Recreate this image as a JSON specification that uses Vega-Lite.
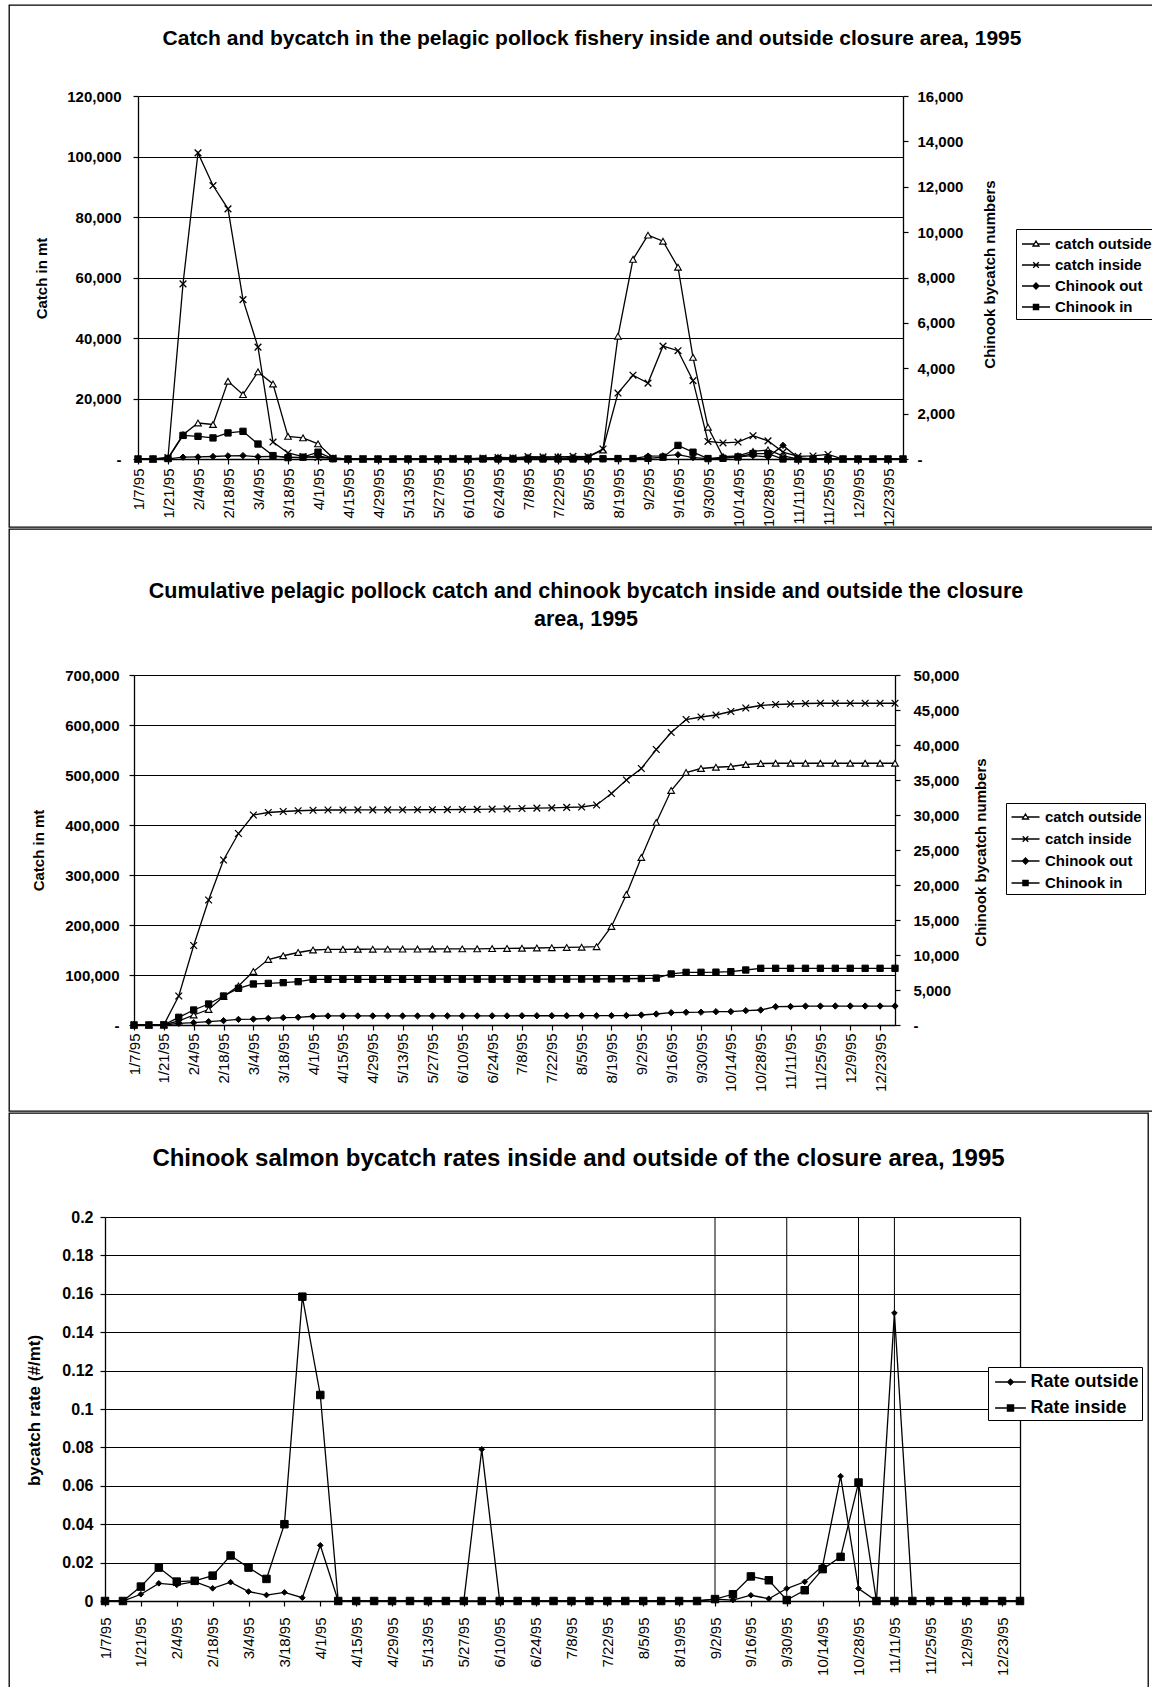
{
"$schema":"https://vega.github.io/schema/vega-lite/v6.json",
"background":"white",
"padding":{"left":8,"top":4,"right":0,"bottom":0},
"spacing":0,
"datasets":{
"weekly":[
{"d":"1/7/95","w":0,"catch outside":0,"catch inside":0,"Chinook out":0,"Chinook in":0},
{"d":"1/14/95","w":1,"catch outside":0,"catch inside":0,"Chinook out":0,"Chinook in":0},
{"d":"1/21/95","w":2,"catch outside":300,"catch inside":500,"Chinook out":10,"Chinook in":20},
{"d":"1/28/95","w":3,"catch outside":8000,"catch inside":57900,"Chinook out":80,"Chinook in":1040},
{"d":"2/4/95","w":4,"catch outside":11900,"catch inside":101200,"Chinook out":90,"Chinook in":1000},
{"d":"2/11/95","w":5,"catch outside":11400,"catch inside":90400,"Chinook out":110,"Chinook in":930},
{"d":"2/18/95","w":6,"catch outside":25700,"catch inside":82700,"Chinook out":140,"Chinook in":1150},
{"d":"2/25/95","w":7,"catch outside":21300,"catch inside":52700,"Chinook out":150,"Chinook in":1220},
{"d":"3/4/95","w":8,"catch outside":28800,"catch inside":37000,"Chinook out":100,"Chinook in":660},
{"d":"3/11/95","w":9,"catch outside":24800,"catch inside":5600,"Chinook out":120,"Chinook in":150},
{"d":"3/18/95","w":10,"catch outside":7500,"catch inside":2000,"Chinook out":80,"Chinook in":60},
{"d":"3/25/95","w":11,"catch outside":7000,"catch inside":800,"Chinook out":50,"Chinook in":80},
{"d":"4/1/95","w":12,"catch outside":5000,"catch inside":500,"Chinook out":150,"Chinook in":300},
{"d":"4/8/95","w":13,"catch outside":300,"catch inside":300,"Chinook out":0,"Chinook in":10},
{"d":"4/15/95","w":14,"catch outside":0,"catch inside":0,"Chinook out":0,"Chinook in":0},
{"d":"4/22/95","w":15,"catch outside":0,"catch inside":100,"Chinook out":0,"Chinook in":0},
{"d":"4/29/95","w":16,"catch outside":0,"catch inside":0,"Chinook out":0,"Chinook in":0},
{"d":"5/6/95","w":17,"catch outside":0,"catch inside":0,"Chinook out":0,"Chinook in":0},
{"d":"5/13/95","w":18,"catch outside":100,"catch inside":0,"Chinook out":0,"Chinook in":0},
{"d":"5/20/95","w":19,"catch outside":0,"catch inside":0,"Chinook out":0,"Chinook in":0},
{"d":"5/27/95","w":20,"catch outside":0,"catch inside":0,"Chinook out":0,"Chinook in":0},
{"d":"6/3/95","w":21,"catch outside":100,"catch inside":200,"Chinook out":8,"Chinook in":0},
{"d":"6/10/95","w":22,"catch outside":0,"catch inside":100,"Chinook out":0,"Chinook in":0},
{"d":"6/17/95","w":23,"catch outside":200,"catch inside":300,"Chinook out":0,"Chinook in":0},
{"d":"6/24/95","w":24,"catch outside":500,"catch inside":500,"Chinook out":0,"Chinook in":0},
{"d":"7/1/95","w":25,"catch outside":300,"catch inside":400,"Chinook out":0,"Chinook in":0},
{"d":"7/8/95","w":26,"catch outside":500,"catch inside":800,"Chinook out":0,"Chinook in":0},
{"d":"7/15/95","w":27,"catch outside":500,"catch inside":700,"Chinook out":0,"Chinook in":0},
{"d":"7/22/95","w":28,"catch outside":800,"catch inside":600,"Chinook out":0,"Chinook in":0},
{"d":"7/29/95","w":29,"catch outside":500,"catch inside":900,"Chinook out":0,"Chinook in":0},
{"d":"8/5/95","w":30,"catch outside":600,"catch inside":800,"Chinook out":0,"Chinook in":0},
{"d":"8/12/95","w":31,"catch outside":3000,"catch inside":3300,"Chinook out":0,"Chinook in":10},
{"d":"8/19/95","w":32,"catch outside":40600,"catch inside":21800,"Chinook out":10,"Chinook in":20},
{"d":"8/26/95","w":33,"catch outside":66000,"catch inside":27700,"Chinook out":20,"Chinook in":20},
{"d":"9/2/95","w":34,"catch outside":74000,"catch inside":25100,"Chinook out":130,"Chinook in":30},
{"d":"9/9/95","w":35,"catch outside":72000,"catch inside":37300,"Chinook out":140,"Chinook in":80},
{"d":"9/16/95","w":36,"catch outside":63400,"catch inside":35800,"Chinook out":190,"Chinook in":600},
{"d":"9/23/95","w":37,"catch outside":33600,"catch inside":25900,"Chinook out":60,"Chinook in":300},
{"d":"9/30/95","w":38,"catch outside":10500,"catch inside":5800,"Chinook out":20,"Chinook in":20},
{"d":"10/7/95","w":39,"catch outside":800,"catch inside":5300,"Chinook out":80,"Chinook in":30},
{"d":"10/14/95","w":40,"catch outside":1000,"catch inside":5600,"Chinook out":100,"Chinook in":90},
{"d":"10/21/95","w":41,"catch outside":2500,"catch inside":7700,"Chinook out":150,"Chinook in":240},
{"d":"10/28/95","w":42,"catch outside":3000,"catch inside":6000,"Chinook out":90,"Chinook in":240},
{"d":"11/4/95","w":43,"catch outside":1000,"catch inside":2300,"Chinook out":600,"Chinook in":0},
{"d":"11/11/95","w":44,"catch outside":0,"catch inside":900,"Chinook out":50,"Chinook in":0},
{"d":"11/18/95","w":45,"catch outside":0,"catch inside":1000,"Chinook out":0,"Chinook in":0},
{"d":"11/25/95","w":46,"catch outside":0,"catch inside":1500,"Chinook out":0,"Chinook in":0},
{"d":"12/2/95","w":47,"catch outside":0,"catch inside":0,"Chinook out":0,"Chinook in":0},
{"d":"12/9/95","w":48,"catch outside":0,"catch inside":0,"Chinook out":0,"Chinook in":0},
{"d":"12/16/95","w":49,"catch outside":0,"catch inside":0,"Chinook out":0,"Chinook in":0},
{"d":"12/23/95","w":50,"catch outside":0,"catch inside":0,"Chinook out":0,"Chinook in":0},
{"d":"12/30/95","w":51,"catch outside":0,"catch inside":0,"Chinook out":0,"Chinook in":0}
],
"cumul":[
{"d":"1/7/95","w":0,"catch outside":0,"catch inside":0,"Chinook out":0,"Chinook in":0},
{"d":"1/14/95","w":1,"catch outside":0,"catch inside":0,"Chinook out":0,"Chinook in":0},
{"d":"1/21/95","w":2,"catch outside":0,"catch inside":500,"Chinook out":0,"Chinook in":20},
{"d":"1/28/95","w":3,"catch outside":8000,"catch inside":58000,"Chinook out":240,"Chinook in":1100},
{"d":"2/4/95","w":4,"catch outside":20000,"catch inside":159000,"Chinook out":330,"Chinook in":2140},
{"d":"2/11/95","w":5,"catch outside":31000,"catch inside":250000,"Chinook out":480,"Chinook in":3000},
{"d":"2/18/95","w":6,"catch outside":57000,"catch inside":330000,"Chinook out":620,"Chinook in":4140},
{"d":"2/25/95","w":7,"catch outside":78000,"catch inside":383000,"Chinook out":800,"Chinook in":5240},
{"d":"3/4/95","w":8,"catch outside":107000,"catch inside":420000,"Chinook out":850,"Chinook in":5860},
{"d":"3/11/95","w":9,"catch outside":131000,"catch inside":425000,"Chinook out":950,"Chinook in":5950},
{"d":"3/18/95","w":10,"catch outside":138500,"catch inside":427000,"Chinook out":1050,"Chinook in":6050},
{"d":"3/25/95","w":11,"catch outside":145000,"catch inside":428500,"Chinook out":1100,"Chinook in":6190},
{"d":"4/1/95","w":12,"catch outside":150000,"catch inside":429500,"Chinook out":1250,"Chinook in":6520},
{"d":"4/8/95","w":13,"catch outside":151300,"catch inside":430000,"Chinook out":1290,"Chinook in":6530},
{"d":"4/15/95","w":14,"catch outside":151400,"catch inside":430000,"Chinook out":1300,"Chinook in":6530},
{"d":"4/22/95","w":15,"catch outside":151500,"catch inside":430200,"Chinook out":1300,"Chinook in":6530},
{"d":"4/29/95","w":16,"catch outside":151600,"catch inside":430300,"Chinook out":1300,"Chinook in":6530},
{"d":"5/6/95","w":17,"catch outside":151700,"catch inside":430300,"Chinook out":1300,"Chinook in":6530},
{"d":"5/13/95","w":18,"catch outside":151800,"catch inside":430400,"Chinook out":1300,"Chinook in":6530},
{"d":"5/20/95","w":19,"catch outside":151900,"catch inside":430500,"Chinook out":1300,"Chinook in":6530},
{"d":"5/27/95","w":20,"catch outside":152000,"catch inside":430600,"Chinook out":1300,"Chinook in":6540},
{"d":"6/3/95","w":21,"catch outside":152100,"catch inside":430800,"Chinook out":1310,"Chinook in":6540},
{"d":"6/10/95","w":22,"catch outside":152200,"catch inside":431000,"Chinook out":1310,"Chinook in":6540},
{"d":"6/17/95","w":23,"catch outside":152400,"catch inside":431300,"Chinook out":1310,"Chinook in":6540},
{"d":"6/24/95","w":24,"catch outside":152800,"catch inside":431800,"Chinook out":1310,"Chinook in":6540},
{"d":"7/1/95","w":25,"catch outside":153100,"catch inside":432200,"Chinook out":1310,"Chinook in":6540},
{"d":"7/8/95","w":26,"catch outside":153500,"catch inside":433000,"Chinook out":1320,"Chinook in":6540},
{"d":"7/15/95","w":27,"catch outside":154000,"catch inside":433700,"Chinook out":1320,"Chinook in":6550},
{"d":"7/22/95","w":28,"catch outside":154600,"catch inside":434300,"Chinook out":1320,"Chinook in":6550},
{"d":"7/29/95","w":29,"catch outside":155100,"catch inside":435200,"Chinook out":1320,"Chinook in":6550},
{"d":"8/5/95","w":30,"catch outside":155600,"catch inside":436000,"Chinook out":1330,"Chinook in":6560},
{"d":"8/12/95","w":31,"catch outside":156600,"catch inside":440000,"Chinook out":1330,"Chinook in":6570},
{"d":"8/19/95","w":32,"catch outside":197000,"catch inside":463000,"Chinook out":1340,"Chinook in":6590},
{"d":"8/26/95","w":33,"catch outside":261000,"catch inside":490000,"Chinook out":1360,"Chinook in":6610},
{"d":"9/2/95","w":34,"catch outside":335000,"catch inside":513000,"Chinook out":1430,"Chinook in":6640},
{"d":"9/9/95","w":35,"catch outside":405000,"catch inside":551000,"Chinook out":1570,"Chinook in":6700},
{"d":"9/16/95","w":36,"catch outside":469000,"catch inside":585000,"Chinook out":1760,"Chinook in":7290},
{"d":"9/23/95","w":37,"catch outside":505000,"catch inside":611000,"Chinook out":1810,"Chinook in":7520},
{"d":"9/30/95","w":38,"catch outside":513000,"catch inside":616000,"Chinook out":1830,"Chinook in":7530},
{"d":"10/7/95","w":39,"catch outside":515500,"catch inside":620000,"Chinook out":1900,"Chinook in":7550},
{"d":"10/14/95","w":40,"catch outside":517000,"catch inside":627000,"Chinook out":1920,"Chinook in":7620},
{"d":"10/21/95","w":41,"catch outside":521000,"catch inside":634000,"Chinook out":2050,"Chinook in":7860},
{"d":"10/28/95","w":42,"catch outside":523000,"catch inside":639000,"Chinook out":2140,"Chinook in":8100},
{"d":"11/4/95","w":43,"catch outside":523500,"catch inside":641000,"Chinook out":2620,"Chinook in":8100},
{"d":"11/11/95","w":44,"catch outside":523500,"catch inside":642000,"Chinook out":2640,"Chinook in":8100},
{"d":"11/18/95","w":45,"catch outside":523500,"catch inside":643000,"Chinook out":2700,"Chinook in":8100},
{"d":"11/25/95","w":46,"catch outside":523500,"catch inside":643500,"Chinook out":2700,"Chinook in":8100},
{"d":"12/2/95","w":47,"catch outside":523500,"catch inside":643500,"Chinook out":2710,"Chinook in":8100},
{"d":"12/9/95","w":48,"catch outside":523500,"catch inside":643500,"Chinook out":2710,"Chinook in":8100},
{"d":"12/16/95","w":49,"catch outside":523500,"catch inside":643500,"Chinook out":2710,"Chinook in":8100},
{"d":"12/23/95","w":50,"catch outside":523500,"catch inside":643500,"Chinook out":2710,"Chinook in":8100},
{"d":"12/30/95","w":51,"catch outside":523500,"catch inside":643500,"Chinook out":2710,"Chinook in":8100}
],
"rates":[
{"d":"1/7/95","w":0,"Rate outside":0,"Rate inside":0},
{"d":"1/14/95","w":1,"Rate outside":0,"Rate inside":0},
{"d":"1/21/95","w":2,"Rate outside":0.0035,"Rate inside":0.0075},
{"d":"1/28/95","w":3,"Rate outside":0.0092,"Rate inside":0.0174},
{"d":"2/4/95","w":4,"Rate outside":0.0084,"Rate inside":0.0101},
{"d":"2/11/95","w":5,"Rate outside":0.0101,"Rate inside":0.0105},
{"d":"2/18/95","w":6,"Rate outside":0.0066,"Rate inside":0.0132},
{"d":"2/25/95","w":7,"Rate outside":0.0098,"Rate inside":0.0237},
{"d":"3/4/95","w":8,"Rate outside":0.0049,"Rate inside":0.0174},
{"d":"3/11/95","w":9,"Rate outside":0.0031,"Rate inside":0.0115},
{"d":"3/18/95","w":10,"Rate outside":0.0045,"Rate inside":0.040},
{"d":"3/25/95","w":11,"Rate outside":0.0017,"Rate inside":0.1585},
{"d":"4/1/95","w":12,"Rate outside":0.029,"Rate inside":0.1073},
{"d":"4/8/95","w":13,"Rate outside":0,"Rate inside":0},
{"d":"4/15/95","w":14,"Rate outside":0,"Rate inside":0},
{"d":"4/22/95","w":15,"Rate outside":0,"Rate inside":0},
{"d":"4/29/95","w":16,"Rate outside":0,"Rate inside":0},
{"d":"5/6/95","w":17,"Rate outside":0,"Rate inside":0},
{"d":"5/13/95","w":18,"Rate outside":0,"Rate inside":0},
{"d":"5/20/95","w":19,"Rate outside":0,"Rate inside":0},
{"d":"5/27/95","w":20,"Rate outside":0,"Rate inside":0},
{"d":"6/3/95","w":21,"Rate outside":0.079,"Rate inside":0},
{"d":"6/10/95","w":22,"Rate outside":0,"Rate inside":0},
{"d":"6/17/95","w":23,"Rate outside":0,"Rate inside":0},
{"d":"6/24/95","w":24,"Rate outside":0,"Rate inside":0},
{"d":"7/1/95","w":25,"Rate outside":0,"Rate inside":0},
{"d":"7/8/95","w":26,"Rate outside":0,"Rate inside":0},
{"d":"7/15/95","w":27,"Rate outside":0,"Rate inside":0},
{"d":"7/22/95","w":28,"Rate outside":0,"Rate inside":0},
{"d":"7/29/95","w":29,"Rate outside":0,"Rate inside":0},
{"d":"8/5/95","w":30,"Rate outside":0,"Rate inside":0},
{"d":"8/12/95","w":31,"Rate outside":0,"Rate inside":0},
{"d":"8/19/95","w":32,"Rate outside":0,"Rate inside":0},
{"d":"8/26/95","w":33,"Rate outside":0,"Rate inside":0},
{"d":"9/2/95","w":34,"Rate outside":0.001,"Rate inside":0.001},
{"d":"9/9/95","w":35,"Rate outside":0.0005,"Rate inside":0.0035},
{"d":"9/16/95","w":36,"Rate outside":0.003,"Rate inside":0.0128},
{"d":"9/23/95","w":37,"Rate outside":0.0012,"Rate inside":0.0108},
{"d":"9/30/95","w":38,"Rate outside":0.0065,"Rate inside":0.0005},
{"d":"10/7/95","w":39,"Rate outside":0.010,"Rate inside":0.0056},
{"d":"10/14/95","w":40,"Rate outside":0.0183,"Rate inside":0.0166},
{"d":"10/21/95","w":41,"Rate outside":0.065,"Rate inside":0.023},
{"d":"10/28/95","w":42,"Rate outside":0.0065,"Rate inside":0.0617},
{"d":"11/4/95","w":43,"Rate outside":0,"Rate inside":0},
{"d":"11/11/95","w":44,"Rate outside":0.150,"Rate inside":0},
{"d":"11/18/95","w":45,"Rate outside":0,"Rate inside":0},
{"d":"11/25/95","w":46,"Rate outside":0,"Rate inside":0},
{"d":"12/2/95","w":47,"Rate outside":0,"Rate inside":0},
{"d":"12/9/95","w":48,"Rate outside":0,"Rate inside":0},
{"d":"12/16/95","w":49,"Rate outside":0,"Rate inside":0},
{"d":"12/23/95","w":50,"Rate outside":0,"Rate inside":0},
{"d":"12/30/95","w":51,"Rate outside":0,"Rate inside":0}
]
},
"vconcat":[
{
"width":1146,"height":522,
"title":{"text":"Catch and bycatch in the pelagic pollock fishery inside and outside closure area, 1995","anchor":"middle","frame":"group","offset":-61,"dx":10,"baseline":"alphabetic","fontSize":21,"font":"Liberation Sans","fontWeight":"bold","color":"black"},
"data":{"name":"weekly"},
"encoding":{"x":{"field":"d","type":"ordinal","scale":{"type":"point","padding":0,"range":[129,894],"domain":["1/7/95","1/14/95","1/21/95","1/28/95","2/4/95","2/11/95","2/18/95","2/25/95","3/4/95","3/11/95","3/18/95","3/25/95","4/1/95","4/8/95","4/15/95","4/22/95","4/29/95","5/6/95","5/13/95","5/20/95","5/27/95","6/3/95","6/10/95","6/17/95","6/24/95","7/1/95","7/8/95","7/15/95","7/22/95","7/29/95","8/5/95","8/12/95","8/19/95","8/26/95","9/2/95","9/9/95","9/16/95","9/23/95","9/30/95","10/7/95","10/14/95","10/21/95","10/28/95","11/4/95","11/11/95","11/18/95","11/25/95","12/2/95","12/9/95","12/16/95","12/23/95","12/30/95"]},
"axis":{"values":["1/7/95","1/21/95","2/4/95","2/18/95","3/4/95","3/18/95","4/1/95","4/15/95","4/29/95","5/13/95","5/27/95","6/10/95","6/24/95","7/8/95","7/22/95","8/5/95","8/19/95","9/2/95","9/16/95","9/30/95","10/14/95","10/28/95","11/11/95","11/25/95","12/9/95","12/23/95"],"orient":"bottom","offset":-68,"labelAngle":-90,"labelFont":"Liberation Sans","labelFontWeight":"normal","labelFontSize":15,"tickSize":5,"labelPadding":4,"title":null,"grid":false}}},
"layer":[
{"encoding":{"y":{"field":"catch outside","type":"quantitative","scale":{"domain":[0,120000],"range":[454,91],"nice":false,"zero":false},"axis":{"orient":"left","offset":-129,"values":[0,20000,40000,60000,80000,100000,120000],"grid":true,"tickSize":5,"labelPadding":12,"labelFontSize":15,"labelExpr":"datum.value == 0 ? '-\u00a0\u00a0\u00a0\u00a0\u00a0' : format(datum.value, ',')","title":"Catch in mt","titleFontSize":15,"titleAngle":270,"titleAlign":"center","titleBaseline":"middle","titleX":-97,"titleY":273}}},
 "layer":[
  {"data":{"values":[{"d":"9/2/95"},{"d":"9/30/95"}]},"mark":{"type":"rule","color":"black","strokeWidth":1},"encoding":{"y":{"datum":0},"y2":{"datum":120000}}},
  {"mark":{"type":"line","color":"black","strokeWidth":1.3},"encoding":{"order":{"field":"w"}}},
  {"mark":{"type":"point","shape":"triangle-up","filled":true,"fill":"white","stroke":"black","strokeWidth":1.1,"opacity":1,"size":45}},
  {"mark":{"type":"line","color":"black","strokeWidth":1.3},"encoding":{"y":{"field":"catch inside","type":"quantitative"},"order":{"field":"w"}}},
  {"mark":{"type":"point","shape":"M-1,-1L1,1M-1,1L1,-1","filled":false,"stroke":"black","strokeWidth":1.3,"opacity":1,"size":45},"encoding":{"y":{"field":"catch inside","type":"quantitative"}}}
 ]},
{"encoding":{"y":{"field":"Chinook out","type":"quantitative","scale":{"domain":[0,16000],"range":[454,91],"nice":false,"zero":false},"axis":{"orient":"right","offset":-252,"values":[0,2000,4000,6000,8000,10000,12000,14000,16000],"grid":false,"tickSize":5,"labelPadding":9,"labelFontSize":15,"labelExpr":"datum.value == 0 ? '\u00a0\u00a0\u00a0-' : format(datum.value, ',')","title":"Chinook bycatch numbers","titleFontSize":15,"titleAngle":270,"titleAlign":"center","titleBaseline":"middle","titleX":86,"titleY":269}}},
 "layer":[
  {"mark":{"type":"line","color":"black","strokeWidth":1.3},"encoding":{"order":{"field":"w"}}},
  {"mark":{"type":"point","shape":"diamond","filled":true,"fill":"black","stroke":"black","strokeWidth":1,"opacity":1,"size":40}},
  {"mark":{"type":"line","color":"black","strokeWidth":1.3},"encoding":{"y":{"field":"Chinook in","type":"quantitative"},"order":{"field":"w"}}},
  {"mark":{"type":"point","shape":"square","filled":true,"fill":"black","stroke":"black","strokeWidth":1,"opacity":1,"size":40},"encoding":{"y":{"field":"Chinook in","type":"quantitative"}}}
 ]},
{"data":{"values":[]},"mark":{"type":"point","filled":false,"color":"black","strokeWidth":1.3,"opacity":1},
 "encoding":{
  "shape":{"field":"s","type":"nominal","scale":{"domain":["catch outside","catch inside","Chinook out","Chinook in"],"range":["M-1.4,0L-0.18,0M0.18,0L1.4,0M0,-0.3L0.3,0.2L-0.3,0.2Z","M-1.4,0L1.4,0M-0.28,-0.28L0.28,0.28M-0.28,0.28L0.28,-0.28","M-1.4,0L1.4,0M0,-0.3L0.3,0L0,0.3L-0.3,0Z","M-1.4,0L1.4,0M-0.26,-0.26L0.26,-0.26L0.26,0.26L-0.26,0.26Z"]},
   "legend":{"orient":"none","legendX":1007,"legendY":224,"title":null,"strokeColor":"black","fillColor":"white","padding":4,"rowPadding":2,"symbolSize":400,"symbolOffset":5,"labelOffset":8,"symbolStrokeWidth":1.3,"labelFont":"Liberation Sans","labelFontWeight":"bold","labelFontSize":15,"labelColor":"black","labelLimit":0}},
  "fill":{"field":"s","type":"nominal","scale":{"domain":["catch outside","catch inside","Chinook out","Chinook in"],"range":["white","black","black","black"]},
   "legend":{"orient":"none","legendX":1007,"legendY":224,"title":null,"strokeColor":"black","fillColor":"white","padding":4,"rowPadding":2,"symbolSize":400,"symbolOffset":5,"labelOffset":8,"symbolStrokeWidth":1.3,"labelFont":"Liberation Sans","labelFontWeight":"bold","labelFontSize":15,"labelColor":"black","labelLimit":0}},
  "stroke":{"field":"s","type":"nominal","scale":{"domain":["catch outside","catch inside","Chinook out","Chinook in"],"range":["black","black","black","black"]},
   "legend":{"orient":"none","legendX":1007,"legendY":224,"title":null,"strokeColor":"black","fillColor":"white","padding":4,"rowPadding":2,"symbolSize":400,"symbolOffset":5,"labelOffset":8,"symbolStrokeWidth":1.3,"labelFont":"Liberation Sans","labelFontWeight":"bold","labelFontSize":15,"labelColor":"black","labelLimit":0}}}}
],
"resolve":{"scale":{"y":"independent"}}
},
{
"width":1146,"height":582,
"title":{"text":["Cumulative pelagic pollock catch and chinook bycatch inside and outside the closure","area, 1995"],"lineHeight":28,"anchor":"middle","frame":"group","offset":-118,"dx":4,"baseline":"alphabetic","fontSize":21.5,"font":"Liberation Sans","fontWeight":"bold","color":"black"},
"data":{"name":"cumul"},
"encoding":{"x":{"field":"d","type":"ordinal","scale":{"type":"point","padding":0,"range":[125,886],"domain":["1/7/95","1/14/95","1/21/95","1/28/95","2/4/95","2/11/95","2/18/95","2/25/95","3/4/95","3/11/95","3/18/95","3/25/95","4/1/95","4/8/95","4/15/95","4/22/95","4/29/95","5/6/95","5/13/95","5/20/95","5/27/95","6/3/95","6/10/95","6/17/95","6/24/95","7/1/95","7/8/95","7/15/95","7/22/95","7/29/95","8/5/95","8/12/95","8/19/95","8/26/95","9/2/95","9/9/95","9/16/95","9/23/95","9/30/95","10/7/95","10/14/95","10/21/95","10/28/95","11/4/95","11/11/95","11/18/95","11/25/95","12/2/95","12/9/95","12/16/95","12/23/95","12/30/95"]},
"axis":{"values":["1/7/95","1/21/95","2/4/95","2/18/95","3/4/95","3/18/95","4/1/95","4/15/95","4/29/95","5/13/95","5/27/95","6/10/95","6/24/95","7/8/95","7/22/95","8/5/95","8/19/95","9/2/95","9/16/95","9/30/95","10/14/95","10/28/95","11/11/95","11/25/95","12/9/95","12/23/95"],"orient":"bottom","offset":-86,"labelAngle":-90,"labelFont":"Liberation Sans","labelFontWeight":"normal","labelFontSize":15,"tickSize":5,"labelPadding":3,"title":null,"grid":false}}},
"layer":[
{"encoding":{"y":{"field":"catch outside","type":"quantitative","scale":{"domain":[0,700000],"range":[496,146],"nice":false,"zero":false},"axis":{"orient":"left","offset":-125,"values":[0,100000,200000,300000,400000,500000,600000,700000],"grid":true,"tickSize":5,"labelPadding":10,"labelFontSize":15,"labelExpr":"datum.value == 0 ? '-\u00a0\u00a0\u00a0\u00a0\u00a0' : format(datum.value, ',')","title":"Catch in mt","titleFontSize":15,"titleAngle":270,"titleAlign":"center","titleBaseline":"middle","titleX":-96,"titleY":321}}},
 "layer":[
  {"data":{"values":[{"d":"9/2/95"},{"d":"9/30/95"}]},"mark":{"type":"rule","color":"black","strokeWidth":1},"encoding":{"y":{"datum":0},"y2":{"datum":700000}}},
  {"mark":{"type":"line","color":"black","strokeWidth":1.3},"encoding":{"order":{"field":"w"}}},
  {"mark":{"type":"point","shape":"triangle-up","filled":true,"fill":"white","stroke":"black","strokeWidth":1.1,"opacity":1,"size":45}},
  {"mark":{"type":"line","color":"black","strokeWidth":1.3},"encoding":{"y":{"field":"catch inside","type":"quantitative"},"order":{"field":"w"}}},
  {"mark":{"type":"point","shape":"M-1,-1L1,1M-1,1L1,-1","filled":false,"stroke":"black","strokeWidth":1.3,"opacity":1,"size":45},"encoding":{"y":{"field":"catch inside","type":"quantitative"}}}
 ]},
{"encoding":{"y":{"field":"Chinook out","type":"quantitative","scale":{"domain":[0,50000],"range":[496,146],"nice":false,"zero":false},"axis":{"orient":"right","offset":-260,"values":[0,5000,10000,15000,20000,25000,30000,35000,40000,45000,50000],"grid":false,"tickSize":5,"labelPadding":13,"labelFontSize":15,"labelExpr":"datum.value == 0 ? '\u00a0\u00a0\u00a0-' : format(datum.value, ',')","title":"Chinook bycatch numbers","titleFontSize":15,"titleAngle":270,"titleAlign":"center","titleBaseline":"middle","titleX":85,"titleY":323}}},
 "layer":[
  {"mark":{"type":"line","color":"black","strokeWidth":1.3},"encoding":{"order":{"field":"w"}}},
  {"mark":{"type":"point","shape":"diamond","filled":true,"fill":"black","stroke":"black","strokeWidth":1,"opacity":1,"size":40}},
  {"mark":{"type":"line","color":"black","strokeWidth":1.3},"encoding":{"y":{"field":"Chinook in","type":"quantitative"},"order":{"field":"w"}}},
  {"mark":{"type":"point","shape":"square","filled":true,"fill":"black","stroke":"black","strokeWidth":1,"opacity":1,"size":40},"encoding":{"y":{"field":"Chinook in","type":"quantitative"}}}
 ]},
{"data":{"values":[]},"mark":{"type":"point","filled":false,"color":"black","strokeWidth":1.3,"opacity":1},
 "encoding":{
  "shape":{"field":"s","type":"nominal","scale":{"domain":["catch outside","catch inside","Chinook out","Chinook in"],"range":["M-1.4,0L-0.18,0M0.18,0L1.4,0M0,-0.3L0.3,0.2L-0.3,0.2Z","M-1.4,0L1.4,0M-0.28,-0.28L0.28,0.28M-0.28,0.28L0.28,-0.28","M-1.4,0L1.4,0M0,-0.3L0.3,0L0,0.3L-0.3,0Z","M-1.4,0L1.4,0M-0.26,-0.26L0.26,-0.26L0.26,0.26L-0.26,0.26Z"]},
   "legend":{"orient":"none","legendX":997,"legendY":274,"title":null,"strokeColor":"black","fillColor":"white","padding":3,"rowPadding":3,"symbolSize":400,"symbolOffset":5.5,"labelOffset":8.5,"symbolStrokeWidth":1.3,"labelFont":"Liberation Sans","labelFontWeight":"bold","labelFontSize":15,"labelColor":"black","labelLimit":0}},
  "fill":{"field":"s","type":"nominal","scale":{"domain":["catch outside","catch inside","Chinook out","Chinook in"],"range":["white","black","black","black"]},
   "legend":{"orient":"none","legendX":997,"legendY":274,"title":null,"strokeColor":"black","fillColor":"white","padding":3,"rowPadding":3,"symbolSize":400,"symbolOffset":5.5,"labelOffset":8.5,"symbolStrokeWidth":1.3,"labelFont":"Liberation Sans","labelFontWeight":"bold","labelFontSize":15,"labelColor":"black","labelLimit":0}},
  "stroke":{"field":"s","type":"nominal","scale":{"domain":["catch outside","catch inside","Chinook out","Chinook in"],"range":["black","black","black","black"]},
   "legend":{"orient":"none","legendX":997,"legendY":274,"title":null,"strokeColor":"black","fillColor":"white","padding":3,"rowPadding":3,"symbolSize":400,"symbolOffset":5.5,"labelOffset":8.5,"symbolStrokeWidth":1.3,"labelFont":"Liberation Sans","labelFontWeight":"bold","labelFontSize":15,"labelColor":"black","labelLimit":0}}}}
],
"resolve":{"scale":{"y":"independent"}}
},
{
"width":1139,"height":578,
"title":{"text":"Chinook salmon bycatch rates inside and outside of the closure area, 1995","anchor":"middle","frame":"group","offset":-77,"dx":0,"baseline":"alphabetic","fontSize":24,"font":"Liberation Sans","fontWeight":"bold","color":"black"},
"data":{"name":"rates"},
"encoding":{"x":{"field":"d","type":"ordinal","scale":{"type":"point","padding":0,"range":[96,1011],"domain":["1/7/95","1/14/95","1/21/95","1/28/95","2/4/95","2/11/95","2/18/95","2/25/95","3/4/95","3/11/95","3/18/95","3/25/95","4/1/95","4/8/95","4/15/95","4/22/95","4/29/95","5/6/95","5/13/95","5/20/95","5/27/95","6/3/95","6/10/95","6/17/95","6/24/95","7/1/95","7/8/95","7/15/95","7/22/95","7/29/95","8/5/95","8/12/95","8/19/95","8/26/95","9/2/95","9/9/95","9/16/95","9/23/95","9/30/95","10/7/95","10/14/95","10/21/95","10/28/95","11/4/95","11/11/95","11/18/95","11/25/95","12/2/95","12/9/95","12/16/95","12/23/95","12/30/95"]},
"axis":{"values":["1/7/95","1/21/95","2/4/95","2/18/95","3/4/95","3/18/95","4/1/95","4/15/95","4/29/95","5/13/95","5/27/95","6/10/95","6/24/95","7/8/95","7/22/95","8/5/95","8/19/95","9/2/95","9/16/95","9/30/95","10/14/95","10/28/95","11/11/95","11/25/95","12/9/95","12/23/95"],"orient":"bottom","offset":-90,"labelAngle":-90,"labelFont":"Liberation Sans","labelFontWeight":"normal","labelFontSize":15,"tickSize":5,"labelPadding":11,"title":null,"grid":false}}},
"layer":[
{"encoding":{"y":{"field":"Rate outside","type":"quantitative","scale":{"domain":[0,0.2],"range":[488,104],"nice":false,"zero":false},"axis":{"orient":"left","offset":-96,"values":[0,0.02,0.04,0.06,0.08,0.1,0.12,0.14,0.16,0.18,0.2],"grid":true,"tickSize":5,"labelPadding":7,"labelFontSize":16,"labelExpr":"format(datum.value, '~g')","title":"bycatch rate (#/mt)","titleFontSize":17,"titleAngle":270,"titleAlign":"center","titleBaseline":"middle","titleX":-71,"titleY":297}}},
 "layer":[
  {"mark":{"type":"line","color":"black","strokeWidth":1.3},"encoding":{"order":{"field":"w"}}},
  {"mark":{"type":"point","shape":"diamond","filled":true,"fill":"black","stroke":"black","strokeWidth":1,"opacity":1,"size":32}},
  {"mark":{"type":"line","color":"black","strokeWidth":1.3},"encoding":{"y":{"field":"Rate inside","type":"quantitative"},"order":{"field":"w"}}},
  {"mark":{"type":"point","shape":"square","filled":true,"fill":"black","stroke":"black","strokeWidth":1,"opacity":1,"size":56},"encoding":{"y":{"field":"Rate inside","type":"quantitative"}}}
 ]},
{"layer":[
  {"data":{"values":[{"d":"9/2/95"},{"d":"9/30/95"},{"d":"10/28/95"},{"d":"11/11/95"}]},"mark":{"type":"rule","color":"black","strokeWidth":1},
   "encoding":{"y":{"datum":0,"type":"quantitative","scale":{"domain":[0,0.2],"range":[488,104],"nice":false,"zero":false},"axis":{"orient":"right","offset":-128,"labels":false,"ticks":false,"grid":false,"domain":true,"title":null}},"y2":{"datum":0.2}}}
 ]},
{"data":{"values":[]},"mark":{"type":"point","filled":false,"color":"black","strokeWidth":1.3,"opacity":1},
 "encoding":{
  "shape":{"field":"s","type":"nominal","scale":{"domain":["Rate outside","Rate inside"],"range":["M-1.4,0L1.4,0M0,-0.26L0.26,0L0,0.26L-0.26,0Z","M-1.4,0L1.4,0M-0.28,-0.28L0.28,-0.28L0.28,0.28L-0.28,0.28Z"]},
   "legend":{"orient":"none","legendX":979,"legendY":254,"title":null,"strokeColor":"black","fillColor":"white","padding":3,"rowPadding":5,"symbolSize":484,"symbolOffset":7.5,"labelOffset":8,"symbolStrokeWidth":1.3,"labelFont":"Liberation Sans","labelFontWeight":"bold","labelFontSize":18,"labelColor":"black","labelLimit":0}},
  "fill":{"field":"s","type":"nominal","scale":{"domain":["Rate outside","Rate inside"],"range":["black","black"]},
   "legend":{"orient":"none","legendX":979,"legendY":254,"title":null,"strokeColor":"black","fillColor":"white","padding":3,"rowPadding":5,"symbolSize":484,"symbolOffset":7.5,"labelOffset":8,"symbolStrokeWidth":1.3,"labelFont":"Liberation Sans","labelFontWeight":"bold","labelFontSize":18,"labelColor":"black","labelLimit":0}},
  "stroke":{"field":"s","type":"nominal","scale":{"domain":["Rate outside","Rate inside"],"range":["black","black"]},
   "legend":{"orient":"none","legendX":979,"legendY":254,"title":null,"strokeColor":"black","fillColor":"white","padding":3,"rowPadding":5,"symbolSize":484,"symbolOffset":7.5,"labelOffset":8,"symbolStrokeWidth":1.3,"labelFont":"Liberation Sans","labelFontWeight":"bold","labelFontSize":18,"labelColor":"black","labelLimit":0}}}}
],
"resolve":{"scale":{"y":"independent"}}
}
],
"resolve":{"scale":{"shape":"independent","fill":"independent","stroke":"independent"},"legend":{"shape":"independent","fill":"independent","stroke":"independent"}},
"config":{
"view":{"stroke":"black","strokeWidth":1.3},
"font":"Liberation Sans",
"axis":{"domainColor":"black","domainWidth":1.3,"tickColor":"black","tickWidth":1.2,"labelColor":"black","titleColor":"black","labelFont":"Liberation Sans","titleFont":"Liberation Sans","labelFontWeight":"bold","titleFontWeight":"bold","gridColor":"black","gridOpacity":1,"gridWidth":1.2,"labelOverlap":false}
}
}
